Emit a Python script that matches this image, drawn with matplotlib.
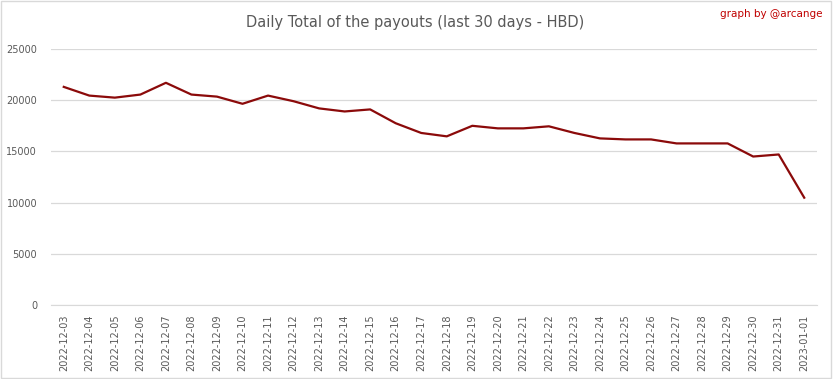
import matplotlib.pyplot as plt
from matplotlib.patches import Rectangle

# Days (last 30 days)
dates = [
    "2022-12-03", "2022-12-04", "2022-12-05", "2022-12-06", "2022-12-07",
    "2022-12-08", "2022-12-09", "2022-12-10", "2022-12-11", "2022-12-12",
    "2022-12-13", "2022-12-14", "2022-12-15", "2022-12-16", "2022-12-17",
    "2022-12-18", "2022-12-19", "2022-12-20", "2022-12-21", "2022-12-22",
    "2022-12-23", "2022-12-24", "2022-12-25", "2022-12-26", "2022-12-27",
    "2022-12-28", "2022-12-29", "2022-12-30", "2022-12-31", "2023-01-01",
]

# Daily total payouts (HBD)
payouts = [
    21300, 20450, 20250, 20550, 21700,
    20550, 20350, 19650, 20450, 19900,
    19200, 18900, 19100, 17750, 16800,
    16470, 17500, 17250, 17250, 17450,
    16800, 16270, 16170, 16170, 15780,
    15780, 15780, 14500, 14700, 10480,
]

yticks = [0, 5000, 10000, 15000, 20000, 25000]

text_gray = "#595959"
line_red = "#8b0a0a"

fig = plt.figure(figsize=(8.33, 3.79), dpi=100)
ax = fig.add_axes([51 / 833, 1 - 305 / 379, 766 / 833, 256 / 379])

x = list(range(len(dates)))
ax.plot(x, payouts, color=line_red, linewidth=1.6, solid_joinstyle="round")

ax.set_xlim(-0.5, len(dates) - 0.5)
ax.set_ylim(0, 25000)
ax.set_yticks(yticks)
ax.set_yticklabels([str(v) for v in yticks])
ax.set_xticks(x)
ax.set_xticklabels(dates, rotation=90)

ax.grid(axis="y", color="#d9d9d9", linewidth=0.9)
ax.set_axisbelow(True)
for s in ["top", "right", "left"]:
    ax.spines[s].set_visible(False)
ax.spines["bottom"].set_color("#d9d9d9")
ax.tick_params(axis="both", length=0, colors=text_gray, labelsize=7)
ax.tick_params(axis="y", pad=10)
ax.tick_params(axis="x", pad=7)

fig.text(415 / 833, 1 - 22 / 379, "Daily Total of the payouts (last 30 days - HBD)",
         ha="center", va="center", fontsize=10.5, color=text_gray)
fig.text(822 / 833, 1 - 14 / 379, "graph by @arcange",
         ha="right", va="center", fontsize=7.5, color="#c00000")

# light border around the figure
fig.patches.append(Rectangle((0.001, 0.002), 0.997, 0.995, transform=fig.transFigure,
                             fill=False, edgecolor="#d9d9d9", linewidth=1))

fig.savefig("out.png", dpi=100)
